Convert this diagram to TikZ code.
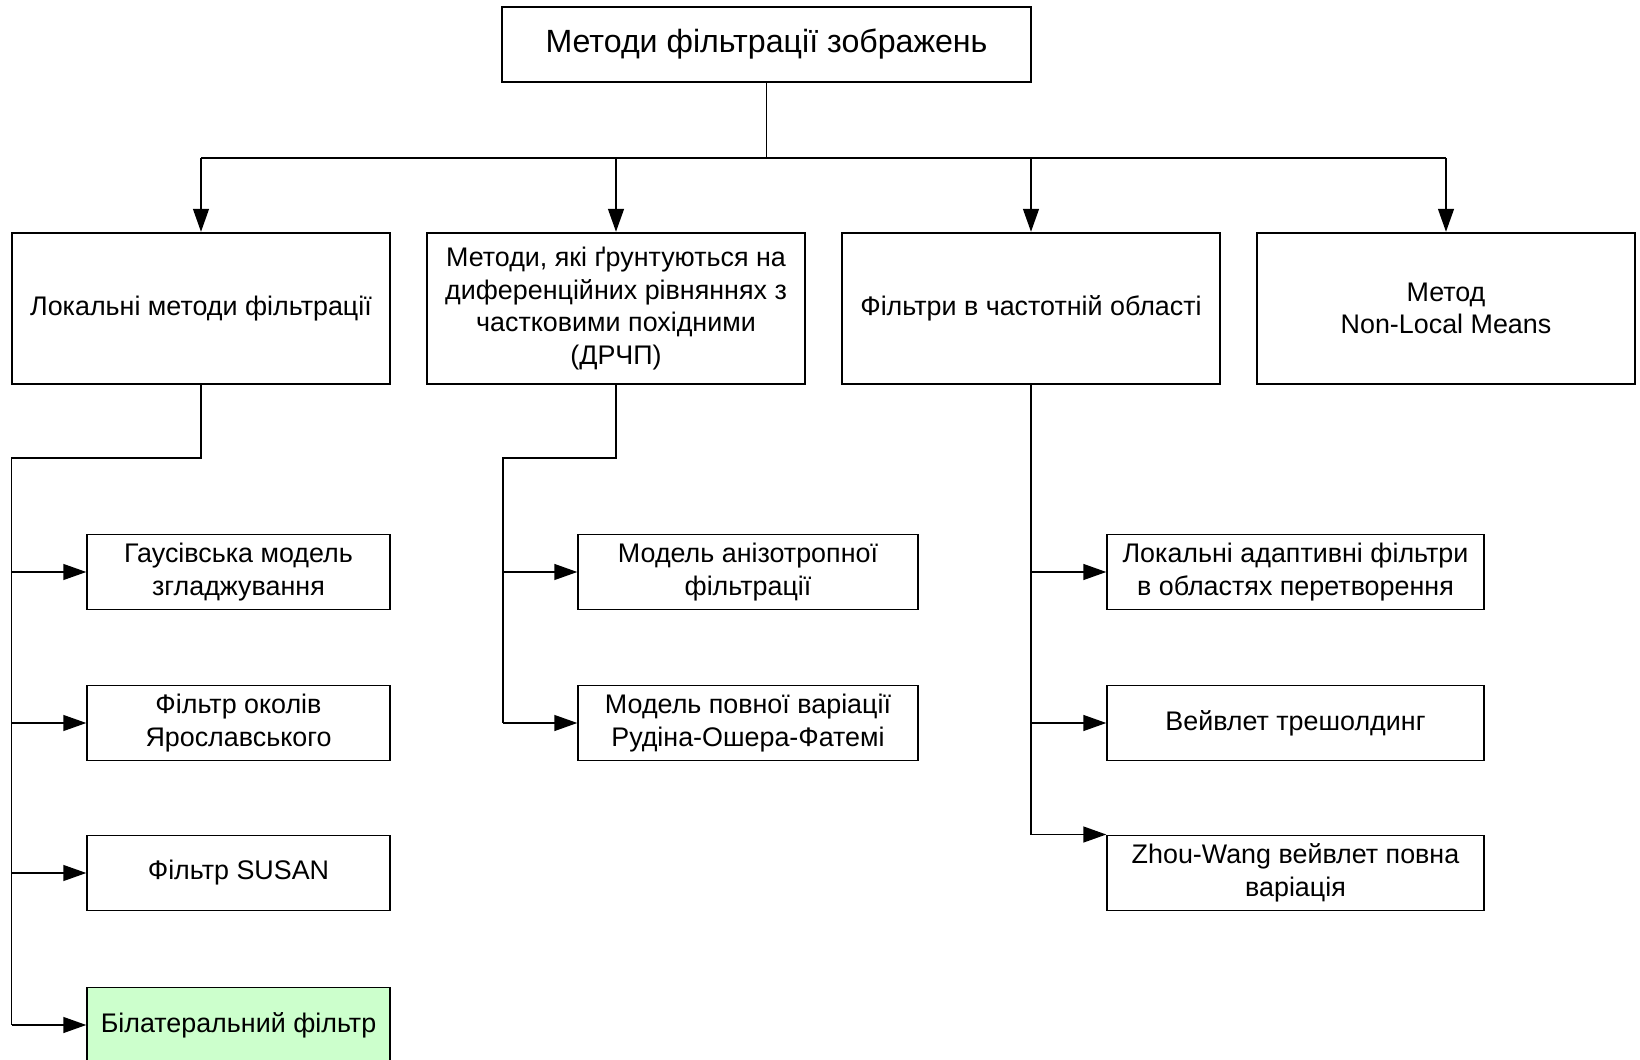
\documentclass[tikz,border=0pt]{standalone}
\usepackage{fontspec}
\setmainfont{Liberation Sans}
\usepackage{xcolor}
\usepackage{tikz}
\usetikzlibrary{arrows.meta}
\definecolor{leafgreen}{RGB}{204,255,204}

\begin{document}
\begin{tikzpicture}[x=0.02cm, y=-0.02cm,
    font=\fontsize{15.3}{18.6}\selectfont,
    mainbox/.style={draw, line width=1.4pt, align=center, minimum width=10.58cm, minimum height=1.5cm, font=\fontsize{18.3}{22}\selectfont},
    groupbox/.style={draw, line width=1.4pt, align=center, minimum width=7.57cm, minimum height=3.02cm},
    leafbox/.style={draw, line width=0.85pt, align=center, minimum height=1.51cm},
    conn/.style={line width=0.9pt},
    arr/.style={line width=0.9pt, -{Triangle[length=13pt,width=9pt]}}]
    \useasboundingbox (0,0) rectangle (1640,1060);
    % top
    \node[mainbox] (root) at (766.5,44.5) {Методи фільтрації зображень};
    % second level
    \node[groupbox] (local) at (201,308.5) {Локальні методи фільтрації};
    \node[groupbox] (pde) at (616,308.5) {Методи, які ґрунтуються на\\диференційних рівняннях з\\частковими похідними\\(ДРЧП)};
    \node[groupbox] (freq) at (1031,308.5) {Фільтри в частотній області};
    \node[groupbox] (nlm) at (1446,308.5) {Метод\\Non-Local Means};
    % local filters
    \node[leafbox, minimum width=6.06cm] (gauss) at (238.5,572) {Гаусівська модель\\згладжування};
    \node[leafbox, minimum width=6.06cm] (yarosl) at (238.5,723) {Фільтр околів\\Ярославського};
    \node[leafbox, minimum width=6.06cm] (susan) at (238.5,873) {Фільтр SUSAN};
    \node[leafbox, minimum width=6.06cm, fill=leafgreen] (bilat) at (238.5,1025) {Білатеральний фільтр};
    % pde models
    \node[leafbox, minimum width=6.8cm] (aniso) at (748,572) {Модель анізотропної\\фільтрації};
    \node[leafbox, minimum width=6.8cm] (rof) at (748,723) {Модель повної варіації\\Рудіна-Ошера-Фатемі};
    % frequency domain
    \node[leafbox, minimum width=7.54cm] (adapt) at (1295.5,572) {Локальні адаптивні фільтри\\в областях перетворення};
    \node[leafbox, minimum width=7.54cm] (wthr) at (1295.5,723) {Вейвлет трешолдинг};
    \node[leafbox, minimum width=7.54cm] (zhou) at (1295.5,873) {Zhou-Wang вейвлет повна\\варіація};

    % connectors
    \coordinate (bus) at (766.5,158);
    \draw[conn] (root) -- (bus);
    \draw[conn] (local.north |- bus) -- (nlm.north |- bus);
    \foreach \n in {local,pde,freq,nlm}
      \draw[arr] (\n.north |- bus) -- (\n.north);

    \coordinate (lbend) at (11.5,458);
    \draw[conn] (local.south) |- (lbend) -- (lbend |- bilat);
    \foreach \n in {gauss,yarosl,susan,bilat}
      \draw[arr] (lbend |- \n) -- (\n);

    \coordinate (mbend) at (503,458);
    \draw[conn] (pde.south) |- (mbend) -- (mbend |- rof);
    \foreach \n in {aniso,rof}
      \draw[arr] (mbend |- \n) -- (\n);

    \draw[conn] (freq.south) -- (freq.south |- zhou.north);
    \foreach \n in {adapt,wthr}
      \draw[arr] (freq.south |- \n) -- (\n);
    \draw[arr] (freq.south |- zhou.north) -- (zhou.north west);
\end{tikzpicture}
\end{document}
